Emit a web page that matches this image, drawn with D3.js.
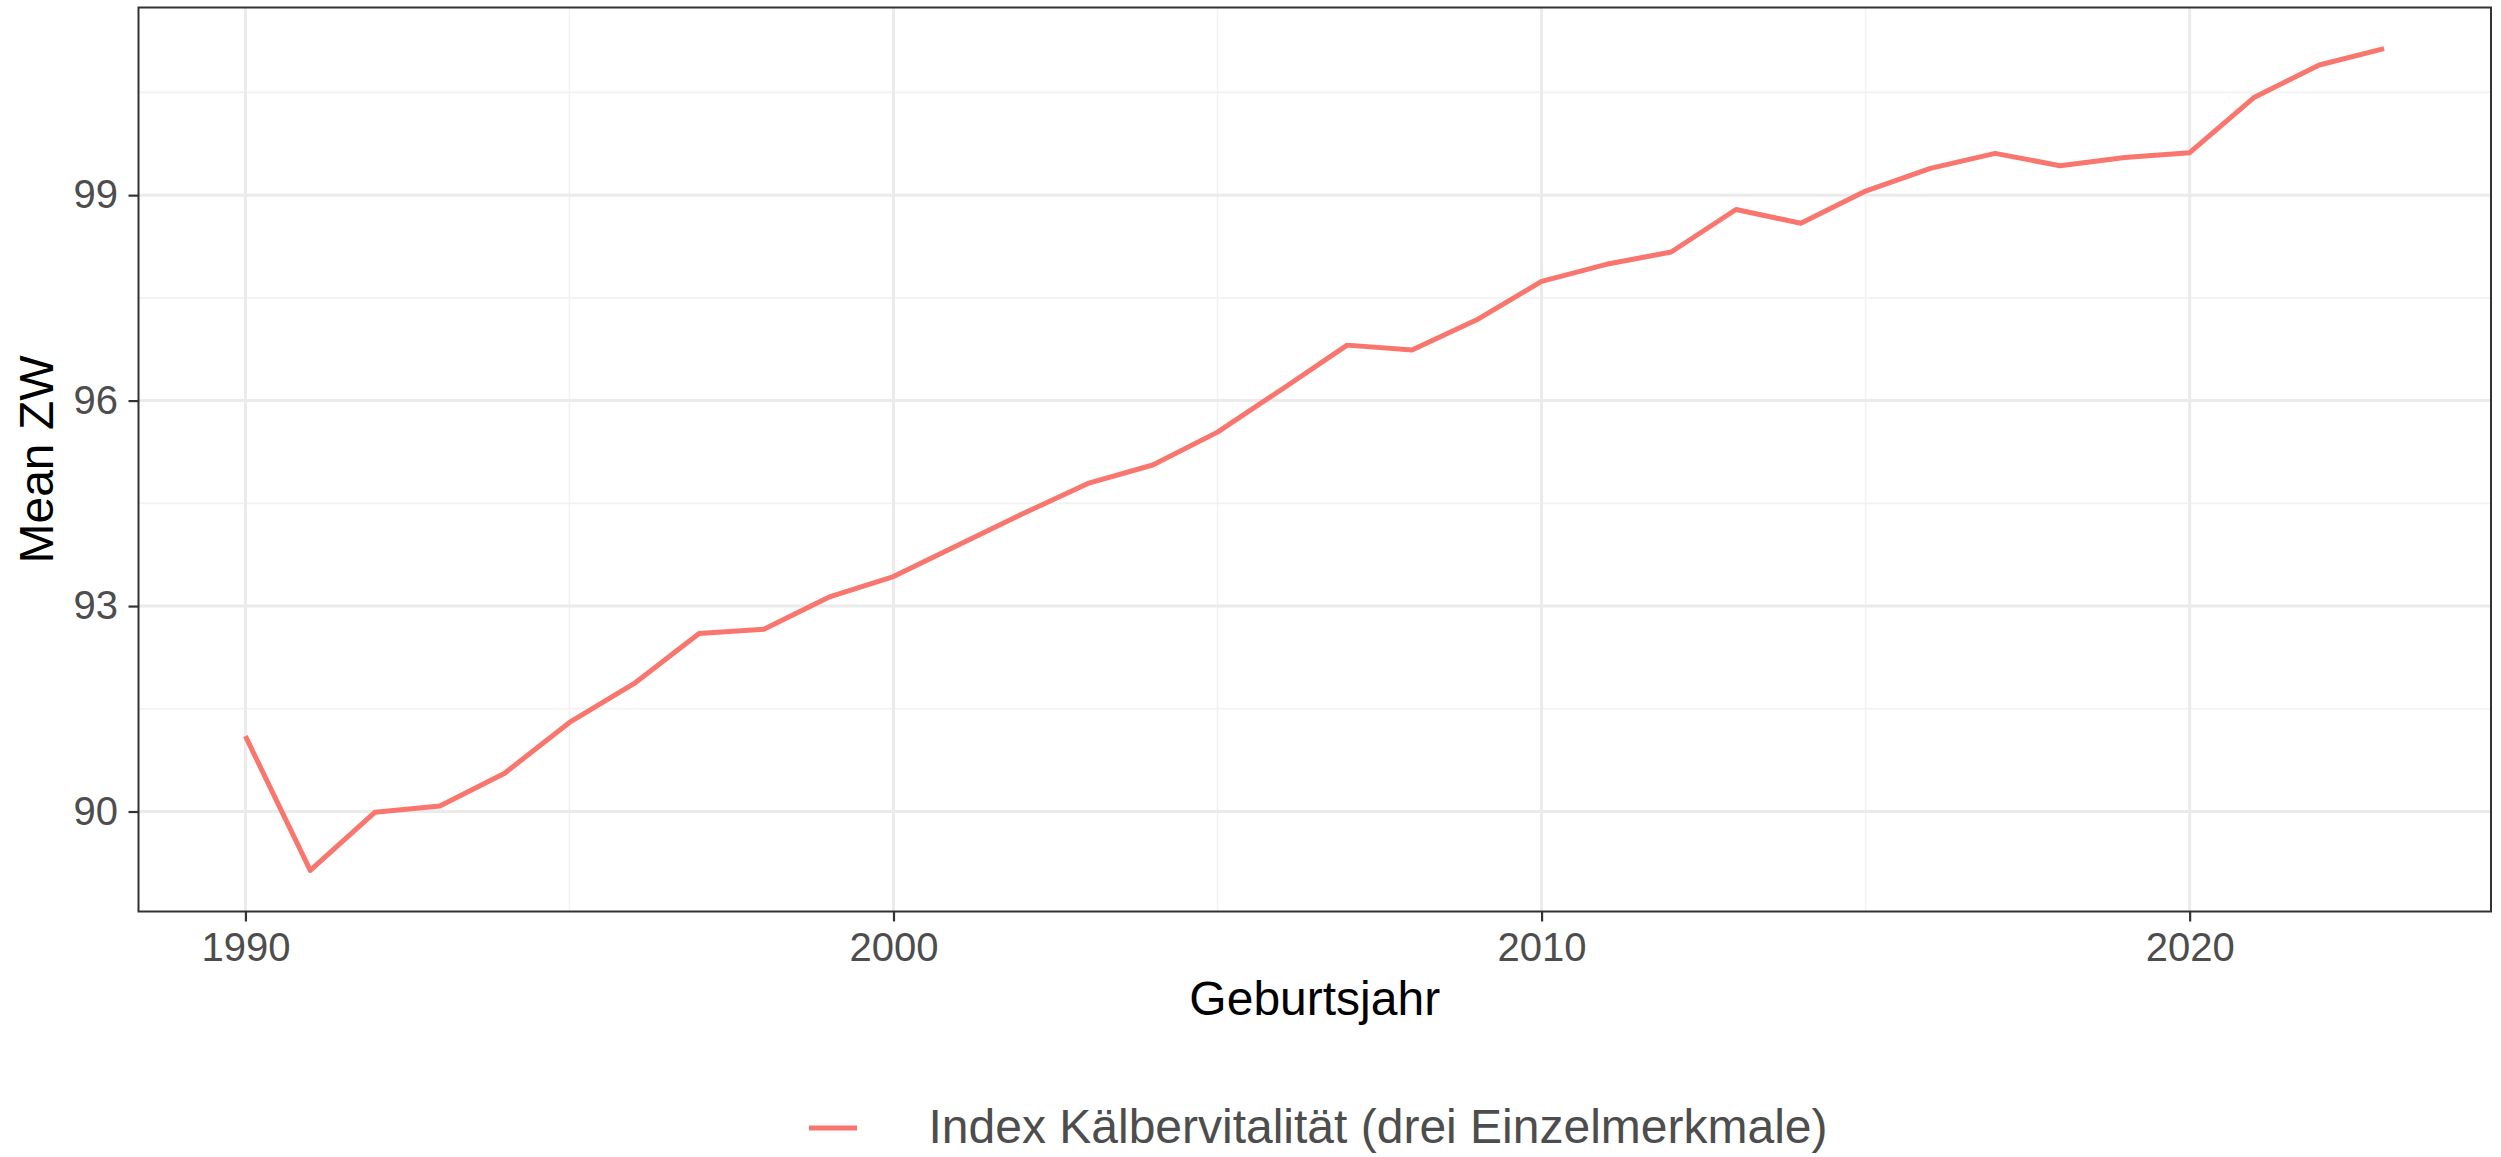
<!DOCTYPE html>
<html>
<head>
<meta charset="utf-8">
<script src="https://cdn.jsdelivr.net/npm/d3@7"></script>
<style>
    body { margin: 0; background: #fff; }
    svg { display: block; font-family: "Liberation Sans", Arial, sans-serif; }
    .tick text { fill: #4D4D4D; font-size: 40px; }
    .tick line { stroke: #333333; stroke-width: 2.2; }
</style>
</head>
<body>
<div id="lineplot"></div>
<script>
// Data
// ============================================================================
const years = [1990, 1991, 1992, 1993, 1994, 1995, 1996, 1997, 1998, 1999,
    2000, 2001, 2002, 2003, 2004, 2005, 2006, 2007, 2008, 2009,
    2010, 2011, 2012, 2013, 2014, 2015, 2016, 2017, 2018, 2019,
    2020, 2021, 2022, 2023];
const meanZW = [91.10, 89.14, 89.99, 90.08, 90.56, 91.30, 91.87, 92.60, 92.66, 93.13,
    93.43, 93.89, 94.35, 94.79, 95.06, 95.54, 96.17, 96.81, 96.74, 97.18,
    97.74, 97.99, 98.17, 98.79, 98.59, 99.06, 99.39, 99.61, 99.43, 99.55,
    99.62, 100.43, 100.90, 101.14];
const xTicks = [1990, 2000, 2010, 2020],
    xMinor = [1995, 2005, 2015],
    yTicks = [90, 93, 96, 99],
    yMinor = [91.5, 94.5, 97.5, 100.5];
const seriesName = "Index Kälbervitalität (drei Einzelmerkmale)";

// Layout
// ============================================================================
const W = 2501, H = 1157,
    panel = {left: 138.5, right: 2491, top: 7.5, bottom: 911.5},
    lineColor = "#F8766D";

const data = years.map((y, i) => ({year: y, value: meanZW[i]}));

// Scales with ggplot-like 5% expansion
function expand(ext) {
    const pad = (ext[1] - ext[0]) * 0.05;
    return [ext[0] - pad, ext[1] + pad];
}
const x = d3.scaleLinear()
    .domain(expand(d3.extent(years)))
    .range([panel.left, panel.right]);
const y = d3.scaleLinear()
    .domain(expand(d3.extent(meanZW)))
    .range([panel.bottom, panel.top]);

const svg = d3.select("#lineplot").append("svg")
    .attr("width", W)
    .attr("height", H);

// Grid
const grid = svg.append("g");
grid.selectAll(".vminor").data(xMinor).join("line")
    .attr("x1", d => x(d)).attr("x2", d => x(d))
    .attr("y1", panel.top).attr("y2", panel.bottom)
    .attr("stroke", "#F2F2F2").attr("stroke-width", 1.6);
grid.selectAll(".hminor").data(yMinor).join("line")
    .attr("y1", d => y(d)).attr("y2", d => y(d))
    .attr("x1", panel.left).attr("x2", panel.right)
    .attr("stroke", "#F2F2F2").attr("stroke-width", 1.6);
grid.selectAll(".vmajor").data(xTicks).join("line")
    .attr("x1", d => x(d)).attr("x2", d => x(d))
    .attr("y1", panel.top).attr("y2", panel.bottom)
    .attr("stroke", "#EBEBEB").attr("stroke-width", 3);
grid.selectAll(".hmajor").data(yTicks).join("line")
    .attr("y1", d => y(d)).attr("y2", d => y(d))
    .attr("x1", panel.left).attr("x2", panel.right)
    .attr("stroke", "#EBEBEB").attr("stroke-width", 3);

// Line
svg.append("path")
    .datum(data)
    .attr("fill", "none")
    .attr("stroke", lineColor)
    .attr("stroke-width", 5)
    .attr("stroke-linejoin", "round")
    .attr("d", d3.line().x(d => x(d.year)).y(d => y(d.value)));

// Panel border
svg.append("rect")
    .attr("x", panel.left).attr("y", panel.top)
    .attr("width", panel.right - panel.left)
    .attr("height", panel.bottom - panel.top)
    .attr("fill", "none")
    .attr("stroke", "#333333")
    .attr("stroke-width", 2);

// Axes
const xAxis = svg.append("g")
    .attr("transform", "translate(0," + panel.bottom + ")")
    .call(d3.axisBottom(x).tickValues(xTicks).tickFormat(d3.format("d"))
        .tickSize(10).tickSizeOuter(0).tickPadding(11));
xAxis.select(".domain").remove();
xAxis.selectAll("text").attr("font-family", null).attr("font-size", null);

const yAxis = svg.append("g")
    .attr("transform", "translate(" + panel.left + ",0)")
    .call(d3.axisLeft(y).tickValues(yTicks).tickFormat(d3.format("d"))
        .tickSize(10).tickSizeOuter(0).tickPadding(10.5));
yAxis.select(".domain").remove();
yAxis.selectAll("text").attr("font-family", null).attr("font-size", null);
svg.selectAll(".tick line").attr("stroke", null);

// Axis titles
svg.append("text")
    .attr("x", (panel.left + panel.right) / 2)
    .attr("y", 1015)
    .attr("text-anchor", "middle")
    .attr("font-size", 48)
    .attr("fill", "#000")
    .text("Geburtsjahr");

svg.append("text")
    .attr("transform", "translate(53," + (panel.top + panel.bottom) / 2 + ") rotate(-90)")
    .attr("text-anchor", "middle")
    .attr("font-size", 48)
    .attr("fill", "#000")
    .text("Mean ZW");

// Legend
const legend = svg.append("g");
legend.append("line")
    .attr("x1", 809).attr("x2", 857)
    .attr("y1", 1128).attr("y2", 1128)
    .attr("stroke", lineColor)
    .attr("stroke-width", 5);
legend.append("text")
    .attr("x", 928.5)
    .attr("y", 1143.3)
    .attr("font-size", 48)
    .attr("fill", "#4D4D4D")
    .text(seriesName);
</script>
</body>
</html>
